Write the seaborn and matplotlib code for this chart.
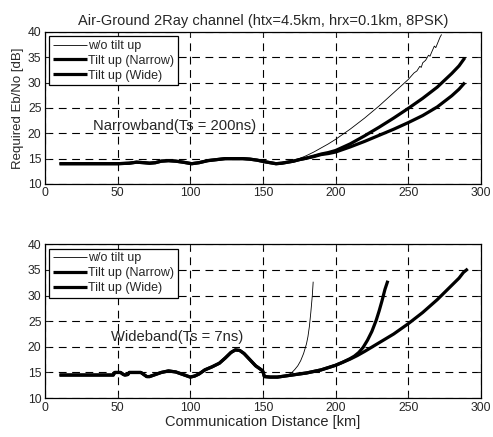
import matplotlib
matplotlib.use("Agg")
import matplotlib.pyplot as plt
import seaborn as sns
import pandas as pd

# ---------------- data ----------------
title = "Air-Ground 2Ray channel (htx=4.5km, hrx=0.1km, 8PSK)"
series_names = ["w/o tilt up", "Tilt up (Narrow)", "Tilt up (Wide)"]

# Narrowband (top)
nb_common_x = [10, 20, 30, 40, 50, 58, 63, 68, 72, 76, 80, 85, 90, 95, 101, 106, 112, 118,
               124, 130, 136, 141, 146, 151, 155, 159, 163, 167, 171]
nb_common_y = [14.0, 14.0, 14.0, 14.0, 14.0, 14.1, 14.3, 14.2, 14.1, 14.2, 14.5, 14.6, 14.5,
               14.3, 14.0, 14.2, 14.6, 14.8, 15.0, 15.0, 15.0, 14.9, 14.7, 14.4, 14.2, 14.0,
               14.1, 14.3, 14.5]
nb_wo_x = [175, 180, 185, 190, 195, 200, 205, 210, 215, 220, 225, 230, 235, 240, 245, 250,
           254, 256, 258, 259, 260, 262, 264, 265, 266, 268, 269, 270, 272, 273]
nb_wo_y = [15.0, 15.6, 16.3, 17.1, 17.9, 18.8, 19.8, 20.8, 21.9, 23.0, 24.2, 25.4, 26.7,
           28.0, 29.3, 30.6, 31.9, 32.3, 33.2, 33.0, 33.9, 34.4, 35.4, 35.2, 35.9, 37.2,
           36.9, 37.6, 39.0, 39.5]
nb_narrow_x = [175, 180, 185, 190, 195, 200, 210, 220, 230, 240, 250, 260, 270, 280, 285, 289]
nb_narrow_y = [14.8, 15.1, 15.5, 15.9, 16.2, 16.6, 17.9, 19.5, 21.2, 23.0, 24.9, 26.9, 29.1,
               31.8, 33.3, 34.9]
nb_wide_x = [175, 180, 185, 190, 195, 200, 210, 220, 230, 240, 250, 260, 270, 280, 285, 289]
nb_wide_y = [14.8, 15.1, 15.4, 15.8, 16.0, 16.3, 17.3, 18.4, 19.6, 20.8, 22.1, 23.5, 25.2,
             27.4, 28.7, 30.0]

# Wideband (bottom)
wb_common_x = [10, 20, 30, 40, 47, 48, 52, 54, 55, 57, 58, 62, 66, 67, 70, 72, 76, 80, 85,
               90, 95, 100, 103, 106, 110, 115, 120, 124, 128, 131, 134, 137, 141, 145, 149,
               150, 151, 155, 160, 165]
wb_common_y = [14.5, 14.5, 14.5, 14.5, 14.5, 15.0, 15.0, 14.6, 14.5, 14.6, 15.0, 15.0, 15.0,
               14.8, 14.2, 14.2, 14.6, 15.0, 15.3, 15.1, 14.6, 14.1, 14.3, 14.7, 15.5, 16.1,
               16.8, 17.8, 18.9, 19.4, 19.3, 18.7, 17.5, 16.3, 15.5, 15.2, 14.2, 14.1, 14.1,
               14.3]
wb_wo_x = [168, 170, 172, 174, 176, 178, 180, 181, 182, 183, 184, 184.6]
wb_wo_y = [14.6, 15.0, 15.6, 16.3, 17.3, 18.7, 20.6, 22.0, 24.0, 26.8, 30.0, 32.7]
wb_narrow_x = [170, 180, 190, 200, 205, 210, 213, 216, 219, 222, 225, 228, 230, 232, 234, 236]
wb_narrow_y = [14.5, 14.9, 15.5, 16.4, 17.0, 17.7, 18.2, 18.9, 19.9, 21.3, 23.0, 25.2, 27.0,
               29.0, 31.2, 32.9]
wb_wide_x = [170, 180, 190, 200, 205, 210, 215, 220, 230, 240, 250, 260, 270, 280, 285, 288, 291]
wb_wide_y = [14.5, 14.9, 15.5, 16.4, 17.0, 17.6, 18.3, 19.1, 20.8, 22.5, 24.5, 26.7, 29.2,
             32.0, 33.4, 34.5, 35.2]

x_ticks = [0, 50, 100, 150, 200, 250, 300]
y_ticks = [10, 15, 20, 25, 30, 35, 40]

# ---------------- style ----------------
sns.set_style("ticks")
plt.rcParams["font.family"] = ["Liberation Sans", "DejaVu Sans"]
plt.rcParams["xtick.direction"] = "in"
plt.rcParams["ytick.direction"] = "in"
plt.rcParams["xtick.top"] = True
plt.rcParams["ytick.right"] = True

fig = plt.figure(figsize=(4.93, 4.37), dpi=100)
ax1 = fig.add_axes([0.0913, 0.579, 0.884, 0.348])
ax2 = fig.add_axes([0.0913, 0.089, 0.884, 0.352])


def build(common_x, common_y, tails):
    frames = []
    for name, (tx, ty) in zip(series_names, tails):
        frames.append(pd.DataFrame({"dist": list(common_x) + list(tx),
                                    "val": list(common_y) + list(ty),
                                    "series": name}))
    return frames


top_frames = build(nb_common_x, nb_common_y,
                   [(nb_wo_x, nb_wo_y), (nb_narrow_x, nb_narrow_y), (nb_wide_x, nb_wide_y)])
bot_frames = build(wb_common_x, wb_common_y,
                   [(wb_wo_x, wb_wo_y), (wb_narrow_x, wb_narrow_y), (wb_wide_x, wb_wide_y)])

widths = [0.6, 2.3, 2.3]

for ax, frames, note, note_xy in [
    (ax1, top_frames, "Narrowband(Ts = 200ns)", (33, 21.5)),
    (ax2, bot_frames, "Wideband(Ts = 7ns)", (45.5, 22.0)),
]:
    # thick first so thin line is on top
    for df, lw in list(zip(frames, widths))[::-1]:
        sns.lineplot(data=df, x="dist", y="val", ax=ax, color="black", linewidth=lw,
                     sort=False, estimator=None, label=df["series"].iloc[0],
                     solid_capstyle="butt")
    ax.set_xlim(0, 300)
    ax.set_ylim(10, 40)
    ax.set_xticks(x_ticks)
    ax.set_yticks(y_ticks)
    ax.grid(True, color="black", linestyle=(0, (7, 5)), linewidth=0.8)
    ax.tick_params(labelsize=8.7, length=3, width=0.7, pad=2.5)
    for s in ax.spines.values():
        s.set_linewidth(0.9)
        s.set_color("black")
    ax.set_xlabel("")
    ax.set_ylabel("")
    ax.text(note_xy[0], note_xy[1], note, fontsize=10.6, va="center", ha="left")
    handles, labels = ax.get_legend_handles_labels()
    order = [labels.index(n) for n in series_names]
    leg = ax.legend([handles[i] for i in order], [labels[i] for i in order],
                    loc="upper left", fontsize=9, frameon=True, fancybox=False,
                    edgecolor="black", framealpha=1, handlelength=2.7,
                    handletextpad=0.1, borderpad=0.3, labelspacing=0.22,
                    borderaxespad=0.35)
    leg.get_frame().set_linewidth(0.9)

ax1.set_title(title, fontsize=10.5, pad=5)
ax1.set_ylabel("Required Eb/No [dB]", fontsize=9.5, labelpad=3)
ax2.set_xlabel("Communication Distance [km]", fontsize=10.5, labelpad=1)

fig.savefig("out.png", dpi=100)
